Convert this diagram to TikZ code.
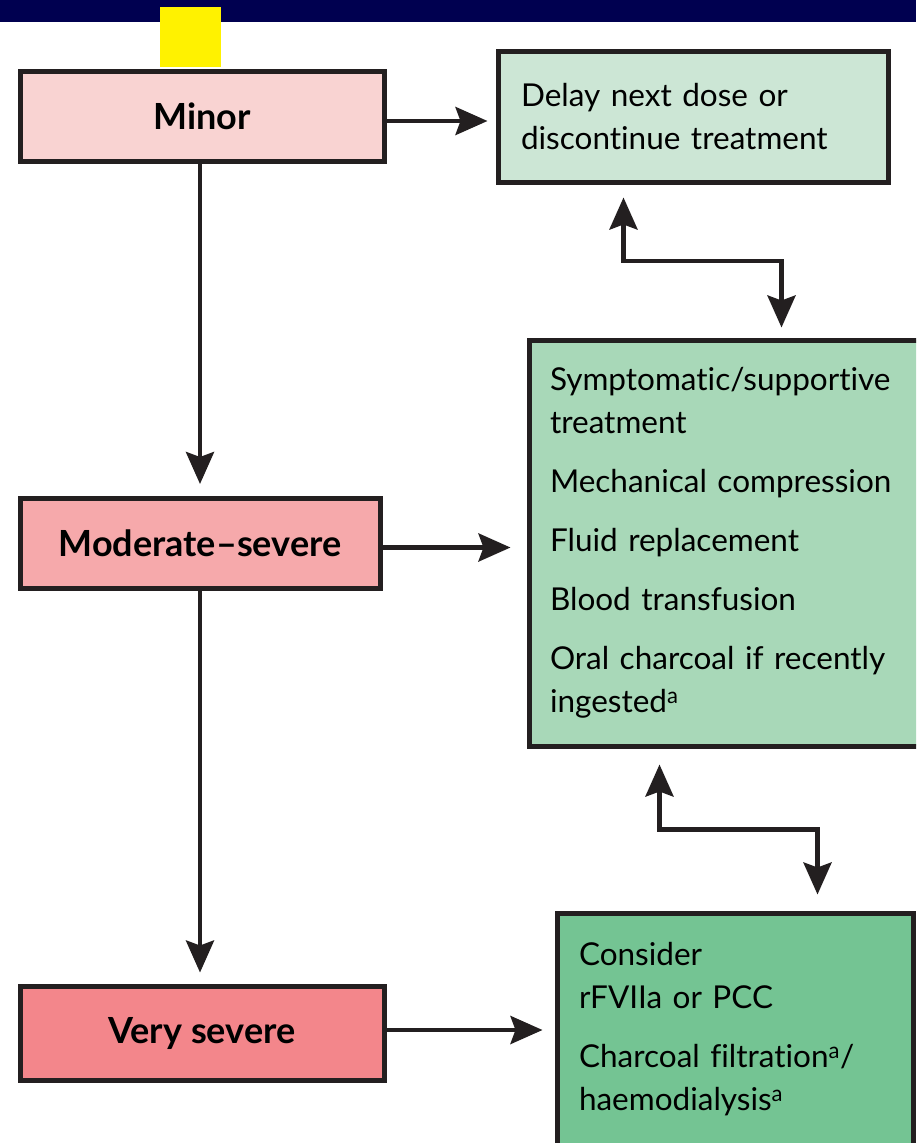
\documentclass[tikz,border=0pt]{standalone}
\usepackage{fontspec}
\setmainfont[Ligatures=NoCommon]{Lato}
\usetikzlibrary{positioning,arrows.meta,calc}
\definecolor{navybar}{HTML}{000050}
\definecolor{boxline}{HTML}{231F20}
\definecolor{minorfill}{HTML}{F9D3D2}
\definecolor{modfill}{HTML}{F6A9AB}
\definecolor{sevfill}{HTML}{F3868B}
\definecolor{delayfill}{HTML}{CCE6D5}
\definecolor{supportfill}{HTML}{A8D8B8}
\definecolor{considerfill}{HTML}{74C493}

\begin{document}
\begin{tikzpicture}[x=1pt,y=-1pt,
	>={Stealth[length=32pt,width=28pt,inset=5pt]},
	box/.style={draw=boxline,line width=5pt,inner sep=0pt},
	grade/.style={box,minimum width=364pt,minimum height=90pt,font=\bfseries\fontsize{36}{42}\selectfont},
	advice/.style={box,align=left,font=\fontsize{31.5}{43}\selectfont},
	link/.style={draw=boxline,line width=4.5pt,->},
	both/.style={draw=boxline,line width=4.5pt,<->}]
  \path[use as bounding box,clip] (0,0) rectangle (916,1143);
  \fill[white] (0,0) rectangle (916,1143);
  \fill[navybar] (0,0) rectangle (916,22);
  \fill[yellow] (160,7) rectangle (221,67);

  \node[grade,fill=minorfill] (minor) at (202,116) {Minor};
  \node[grade,fill=modfill,minimum width=360pt] (moderate) at (200,543.5) {Moderate–severe};
  \node[grade,fill=sevfill,minimum height=94pt] (verysevere) at (202,1033) {Very severe};

  \node[advice,fill=delayfill,minimum height=131pt,inner xsep=23pt,text width=344pt] (delay) at (693,116.5)
    {Delay next dose or\\discontinue treatment};
  \node[advice,fill=supportfill,minimum height=406pt,inner xsep=21pt,text width=354pt] (support) at (727,543)
    {Symptomatic/supportive\\treatment\\[16pt]
     Mechanical compression\\[16pt]
     Fluid replacement\\[16pt]
     Blood transfusion\\[16pt]
     Oral charcoal if recently\\ingested\textsuperscript{a}};
  \node[advice,fill=considerfill,minimum height=232pt,inner xsep=22pt,text width=312pt] (consider) at (735,1029)
    {Consider\\rFVIIa or PCC\\[16pt]
     Charcoal filtration\textsuperscript{a}/\\haemodialysis\textsuperscript{a}};

  \draw[link,shorten >=8pt] ([yshift=-5pt]minor.east) -- ([yshift=-5pt]minor.east -| delay.west);
  \draw[link,shorten >=16pt] ([yshift=-4pt]moderate.east) -- ([yshift=-4pt]moderate.east -| support.west);
  \draw[link,shorten >=12pt] ([yshift=3pt]verysevere.east) -- ([yshift=3pt]verysevere.east -| consider.west);
  \draw[link,shorten >=12pt] (minor.south -| moderate.north) -- (moderate.north);
  \draw[link,shorten >=11pt] (moderate.south) -- (moderate.south |- verysevere.north);

  \draw[both,shorten <=13pt,shorten >=10pt] ([xshift=128pt]delay.south west)
    |- ($(delay.south)!0.5!(support.north)$) -| ([xshift=255pt]support.north west);
  \draw[both,shorten <=16pt,shorten >=16pt] ([xshift=133pt]support.south west)
    |- ($(support.south)!0.5!(consider.north)$) -| ([xshift=263pt]consider.north west);
\end{tikzpicture}
\end{document}
